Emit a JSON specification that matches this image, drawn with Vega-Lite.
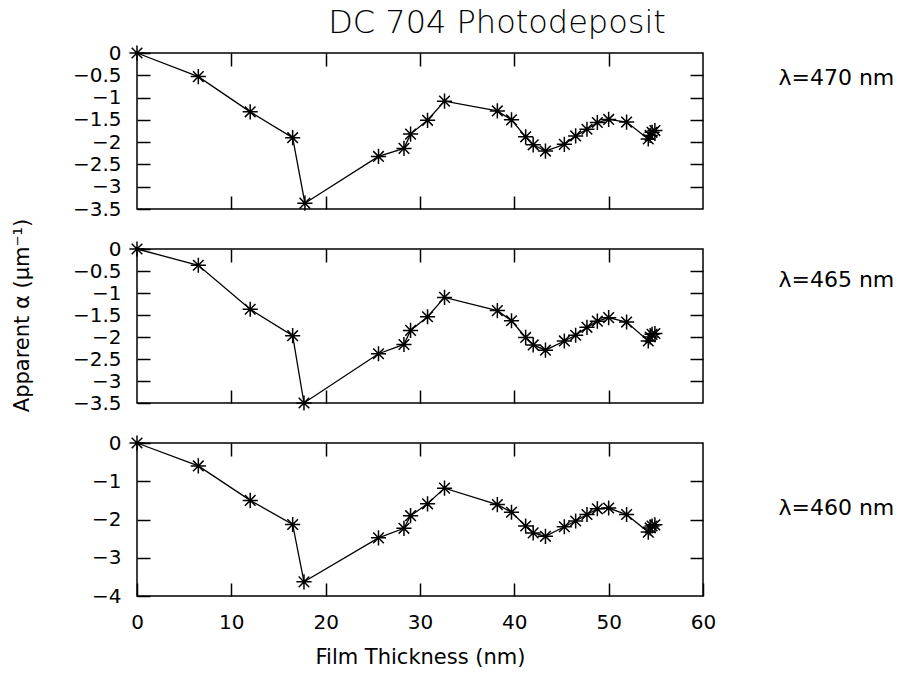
{
  "$schema": "https://vega.github.io/schema/vega-lite/v6.json",
  "padding": {"left": 10, "top": 6, "right": 0, "bottom": 0},
  "background": "white",
  "bounds": "flush",
  "spacing": 40,
  "config": {
    "font": "DejaVu Sans",
    "view": {"stroke": "black", "strokeWidth": 1.5},
    "axis": {"domain": false, "grid": false, "tickColor": "black", "tickSize": -13, "tickWidth": 1.5, "labelColor": "black", "labelFontSize": 20, "labelFont": "DejaVu Sans", "labelFlush": false, "labelPadding": 29, "format": ".1~f", "titleColor": "black", "titleFontWeight": "normal", "titleFontSize": 21, "titleFont": "DejaVu Sans"}
  },
  "datasets": {
    "d470": [
      {"t": 0, "a": 0}, {"t": 6.5, "a": -0.53}, {"t": 12.0, "a": -1.32}, {"t": 16.5, "a": -1.9}, {"t": 17.8, "a": -3.37},
      {"t": 25.6, "a": -2.32}, {"t": 28.3, "a": -2.14}, {"t": 29.0, "a": -1.82}, {"t": 30.8, "a": -1.51}, {"t": 32.6, "a": -1.08},
      {"t": 38.2, "a": -1.3}, {"t": 39.7, "a": -1.5}, {"t": 41.2, "a": -1.88}, {"t": 42.0, "a": -2.06}, {"t": 43.3, "a": -2.2},
      {"t": 45.3, "a": -2.05}, {"t": 46.5, "a": -1.86}, {"t": 47.7, "a": -1.71}, {"t": 48.8, "a": -1.56}, {"t": 50.0, "a": -1.49},
      {"t": 51.9, "a": -1.55}, {"t": 54.2, "a": -1.93}, {"t": 54.4, "a": -1.85}, {"t": 54.6, "a": -1.78}, {"t": 54.9, "a": -1.74}
    ],
    "d465": [
      {"t": 0, "a": 0}, {"t": 6.5, "a": -0.37}, {"t": 12.0, "a": -1.37}, {"t": 16.5, "a": -1.97}, {"t": 17.7, "a": -3.5},
      {"t": 25.6, "a": -2.38}, {"t": 28.3, "a": -2.17}, {"t": 29.0, "a": -1.85}, {"t": 30.8, "a": -1.54}, {"t": 32.6, "a": -1.1},
      {"t": 38.2, "a": -1.4}, {"t": 39.7, "a": -1.63}, {"t": 41.2, "a": -2.01}, {"t": 42.0, "a": -2.18}, {"t": 43.3, "a": -2.3},
      {"t": 45.3, "a": -2.09}, {"t": 46.5, "a": -1.96}, {"t": 47.7, "a": -1.78}, {"t": 48.8, "a": -1.64}, {"t": 50.0, "a": -1.56},
      {"t": 51.9, "a": -1.66}, {"t": 54.2, "a": -2.09}, {"t": 54.4, "a": -2.0}, {"t": 54.6, "a": -1.94}, {"t": 54.9, "a": -1.92}
    ],
    "d460": [
      {"t": 0, "a": 0}, {"t": 6.5, "a": -0.6}, {"t": 12.0, "a": -1.5}, {"t": 16.5, "a": -2.13}, {"t": 17.7, "a": -3.63},
      {"t": 25.6, "a": -2.48}, {"t": 28.3, "a": -2.23}, {"t": 29.0, "a": -1.9}, {"t": 30.8, "a": -1.59}, {"t": 32.6, "a": -1.18},
      {"t": 38.2, "a": -1.61}, {"t": 39.7, "a": -1.81}, {"t": 41.2, "a": -2.17}, {"t": 42.0, "a": -2.35}, {"t": 43.3, "a": -2.44},
      {"t": 45.3, "a": -2.19}, {"t": 46.5, "a": -2.04}, {"t": 47.7, "a": -1.87}, {"t": 48.8, "a": -1.72}, {"t": 50.0, "a": -1.7},
      {"t": 51.9, "a": -1.87}, {"t": 54.2, "a": -2.33}, {"t": 54.4, "a": -2.22}, {"t": 54.6, "a": -2.17}, {"t": 54.9, "a": -2.14}
    ]
  },
  "vconcat": [
    {
      "width": 566, "height": 156,
      "title": {"text": "DC 704 Photodeposit", "fontSize": 32, "fontWeight": 300, "font": "DejaVu Sans", "anchor": "middle", "dx": 77, "offset": 2, "color": "black", "frame": "group"},
      "data": {"name": "d470"},
      "layer": [
        {
          "mark": {"type": "line", "color": "black", "strokeWidth": 1.3},
          "encoding": {
            "x": {"field": "t", "type": "quantitative", "scale": {"domain": [0, 60], "nice": false}, "axis": {"orient": "bottom", "values": [10, 20, 30, 40, 50], "labels": false, "title": null}},
            "y": {"field": "a", "type": "quantitative", "scale": {"domain": [-3.5, 0], "nice": false, "zero": false}, "axis": {"orient": "left", "values": [0, -0.5, -1, -1.5, -2, -2.5, -3, -3.5], "title": null}}
          }
        },
        {
          "mark": {"type": "point", "shape": "M-1,0L1,0M0,-1L0,1M-0.7,-0.7L0.7,0.7M-0.7,0.7L0.7,-0.7", "stroke": "black", "strokeWidth": 1.5, "filled": false, "size": 230, "opacity": 1},
          "encoding": {
            "x": {"field": "t", "type": "quantitative", "axis": {"orient": "top", "values": [10, 20, 30, 40, 50], "labels": false, "title": null}},
            "y": {"field": "a", "type": "quantitative", "axis": {"orient": "right", "values": [-0.5, -1, -1.5, -2, -2.5, -3], "labels": false, "title": null}}
          }
        },
        {
          "data": {"values": [{"label": "λ=470 nm"}]},
          "mark": {"type": "text", "align": "left", "baseline": "middle", "fontSize": 22, "font": "DejaVu Sans", "color": "black"},
          "encoding": {
            "x": {"datum": 68, "type": "quantitative", "axis": null},
            "y": {"datum": -0.56, "type": "quantitative", "axis": null},
            "text": {"field": "label"}
          }
        }
      ],
      "resolve": {"axis": {"x": "independent", "y": "independent"}}
    },
    {
      "width": 566, "height": 154,
      "data": {"name": "d465"},
      "layer": [
        {
          "mark": {"type": "line", "color": "black", "strokeWidth": 1.3},
          "encoding": {
            "x": {"field": "t", "type": "quantitative", "scale": {"domain": [0, 60], "nice": false}, "axis": {"orient": "bottom", "values": [10, 20, 30, 40, 50], "labels": false, "title": null}},
            "y": {"field": "a", "type": "quantitative", "scale": {"domain": [-3.5, 0], "nice": false, "zero": false}, "axis": {"orient": "left", "values": [0, -0.5, -1, -1.5, -2, -2.5, -3, -3.5], "title": "Apparent α (μm⁻¹)", "titlePadding": 40, "titleY": 66}}
          }
        },
        {
          "mark": {"type": "point", "shape": "M-1,0L1,0M0,-1L0,1M-0.7,-0.7L0.7,0.7M-0.7,0.7L0.7,-0.7", "stroke": "black", "strokeWidth": 1.5, "filled": false, "size": 230, "opacity": 1},
          "encoding": {
            "x": {"field": "t", "type": "quantitative", "axis": {"orient": "top", "values": [10, 20, 30, 40, 50], "labels": false, "title": null}},
            "y": {"field": "a", "type": "quantitative", "axis": {"orient": "right", "values": [-0.5, -1, -1.5, -2, -2.5, -3], "labels": false, "title": null}}
          }
        },
        {
          "data": {"values": [{"label": "λ=465 nm"}]},
          "mark": {"type": "text", "align": "left", "baseline": "middle", "fontSize": 22, "font": "DejaVu Sans", "color": "black"},
          "encoding": {
            "x": {"datum": 68, "type": "quantitative", "axis": null},
            "y": {"datum": -0.7, "type": "quantitative", "axis": null},
            "text": {"field": "label"}
          }
        }
      ],
      "resolve": {"axis": {"x": "independent", "y": "independent"}}
    },
    {
      "width": 566, "height": 153,
      "data": {"name": "d460"},
      "layer": [
        {
          "mark": {"type": "line", "color": "black", "strokeWidth": 1.3},
          "encoding": {
            "x": {"field": "t", "type": "quantitative", "scale": {"domain": [0, 60], "nice": false}, "axis": {"orient": "bottom", "values": [0, 10, 20, 30, 40, 50, 60], "format": "d", "title": "Film Thickness (nm)", "titlePadding": 14}},
            "y": {"field": "a", "type": "quantitative", "scale": {"domain": [-4, 0], "nice": false, "zero": false}, "axis": {"orient": "left", "values": [0, -1, -2, -3, -4], "title": null}}
          }
        },
        {
          "mark": {"type": "point", "shape": "M-1,0L1,0M0,-1L0,1M-0.7,-0.7L0.7,0.7M-0.7,0.7L0.7,-0.7", "stroke": "black", "strokeWidth": 1.5, "filled": false, "size": 230, "opacity": 1},
          "encoding": {
            "x": {"field": "t", "type": "quantitative", "axis": {"orient": "top", "values": [10, 20, 30, 40, 50], "labels": false, "title": null}},
            "y": {"field": "a", "type": "quantitative", "axis": {"orient": "right", "values": [-1, -2, -3], "labels": false, "title": null}}
          }
        },
        {
          "data": {"values": [{"label": "λ=460 nm"}]},
          "mark": {"type": "text", "align": "left", "baseline": "middle", "fontSize": 22, "font": "DejaVu Sans", "color": "black"},
          "encoding": {
            "x": {"datum": 68, "type": "quantitative", "axis": null},
            "y": {"datum": -1.7, "type": "quantitative", "axis": null},
            "text": {"field": "label"}
          }
        }
      ],
      "resolve": {"axis": {"x": "independent", "y": "independent"}}
    }
  ]
}
